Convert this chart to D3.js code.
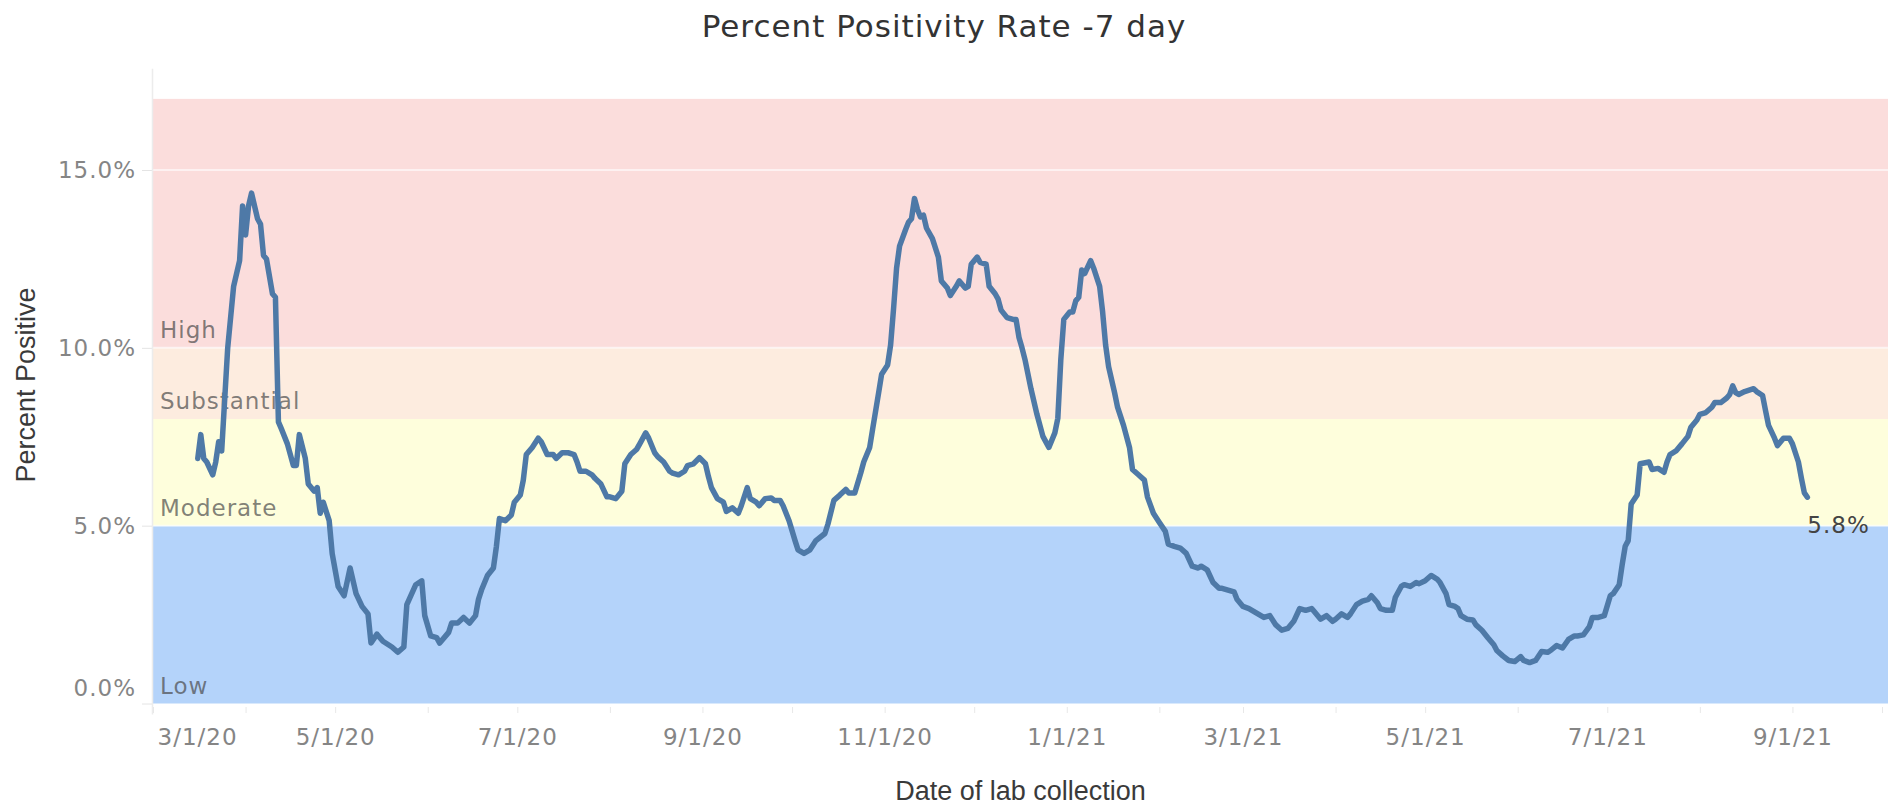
<!DOCTYPE html>
<html>
<head>
<meta charset="utf-8">
<script src="https://cdn.jsdelivr.net/npm/d3@7"></script>
<style>
html, body { margin: 0; padding: 0; background: #fff; }
svg text { font-family: "DejaVu Sans", sans-serif; }
</style>
</head>
<body>
<svg id="svg" width="1888" height="806"></svg>
<script>
// 7-day percent positivity
var dates = [
	"3/16/20","3/17/20","3/18/20","3/19/20","3/21/20","3/22/20","3/23/20","3/24/20","3/26/20","3/28/20","3/30/20","3/31/20",
	"4/1/20","4/2/20","4/3/20","4/5/20","4/6/20","4/7/20","4/8/20","4/10/20","4/11/20","4/12/20","4/13/20","4/15/20","4/17/20","4/18/20","4/19/20","4/21/20","4/22/20","4/24/20","4/25/20","4/26/20","4/27/20","4/29/20","4/30/20",
	"5/2/20","5/4/20","5/6/20","5/8/20","5/10/20","5/12/20","5/13/20","5/15/20","5/17/20","5/20/20","5/22/20","5/24/20","5/25/20","5/28/20","5/30/20","5/31/20",
	"6/2/20","6/4/20","6/5/20","6/8/20","6/9/20","6/11/20","6/13/20","6/15/20","6/17/20","6/18/20","6/19/20","6/21/20","6/23/20","6/24/20","6/25/20","6/27/20","6/29/20","6/30/20",
	"7/2/20","7/3/20","7/4/20","7/6/20","7/8/20","7/9/20","7/11/20","7/13/20","7/14/20","7/16/20","7/18/20","7/20/20","7/21/20","7/22/20","7/24/20","7/26/20","7/27/20","7/29/20","7/31/20",
	"8/1/20","8/3/20","8/5/20","8/6/20","8/8/20","8/10/20","8/11/20","8/13/20","8/14/20","8/16/20","8/17/20","8/19/20","8/21/20","8/22/20","8/24/20","8/26/20","8/27/20","8/29/20","8/31/20",
	"9/2/20","9/3/20","9/4/20","9/6/20","9/8/20","9/9/20","9/11/20","9/13/20","9/14/20","9/16/20","9/17/20","9/19/20","9/20/20","9/22/20","9/24/20","9/25/20","9/27/20","9/28/20","9/30/20",
	"10/2/20","10/3/20","10/5/20","10/7/20","10/9/20","10/12/20","10/13/20","10/15/20","10/17/20","10/19/20","10/20/20","10/22/20","10/24/20","10/25/20","10/27/20","10/28/20","10/30/20","10/31/20",
	"11/2/20","11/3/20","11/4/20","11/5/20","11/6/20","11/8/20","11/9/20","11/10/20","11/11/20","11/12/20","11/13/20","11/14/20","11/15/20","11/17/20","11/19/20","11/20/20","11/22/20","11/23/20","11/25/20","11/26/20","11/28/20","11/29/20","11/30/20",
	"12/2/20","12/3/20","12/5/20","12/6/20","12/8/20","12/9/20","12/10/20","12/12/20","12/14/20","12/15/20","12/16/20","12/17/20","12/18/20","12/20/20","12/22/20","12/24/20","12/26/20","12/28/20","12/29/20","12/30/20","12/31/20",
	"1/2/21","1/3/21","1/4/21","1/5/21","1/6/21","1/7/21","1/9/21","1/10/21","1/12/21","1/13/21","1/14/21","1/15/21","1/17/21","1/18/21","1/20/21","1/22/21","1/23/21","1/25/21","1/27/21","1/28/21","1/30/21",
	"2/1/21","2/3/21","2/4/21","2/6/21","2/8/21","2/10/21","2/12/21","2/14/21","2/15/21","2/17/21","2/19/21","2/21/21","2/22/21","2/24/21","2/26/21","2/27/21",
	"3/1/21","3/3/21","3/4/21","3/6/21","3/8/21","3/10/21","3/12/21","3/14/21","3/16/21","3/18/21","3/20/21","3/22/21","3/24/21","3/25/21","3/27/21","3/29/21","3/31/21",
	"4/1/21","4/3/21","4/5/21","4/6/21","4/8/21","4/10/21","4/12/21","4/13/21","4/15/21","4/16/21","4/18/21","4/20/21","4/21/21","4/23/21","4/24/21","4/26/21","4/28/21","4/29/21",
	"5/1/21","5/3/21","5/5/21","5/6/21","5/8/21","5/9/21","5/11/21","5/12/21","5/13/21","5/15/21","5/17/21","5/18/21","5/20/21","5/22/21","5/24/21","5/25/21","5/27/21","5/29/21","5/31/21",
	"6/2/21","6/3/21","6/5/21","6/7/21","6/9/21","6/11/21","6/12/21","6/14/21","6/16/21","6/18/21","6/20/21","6/21/21","6/23/21","6/25/21","6/26/21","6/28/21","6/30/21",
	"7/2/21","7/3/21","7/5/21","7/6/21","7/7/21","7/8/21","7/9/21","7/11/21","7/12/21","7/15/21","7/16/21","7/18/21","7/20/21","7/21/21","7/22/21","7/24/21","7/26/21","7/28/21","7/29/21","7/31/21",
	"8/1/21","8/3/21","8/5/21","8/6/21","8/8/21","8/10/21","8/11/21","8/12/21","8/13/21","8/14/21","8/16/21","8/19/21","8/20/21","8/22/21","8/23/21","8/24/21","8/26/21","8/27/21","8/29/21","8/31/21",
	"9/1/21","9/3/21","9/4/21","9/5/21","9/6/21"
];
var values = [
	6.89,7.56,6.89,6.79,6.43,6.79,7.36,7.10,9.98,11.73,12.45,13.99,
	13.17,13.99,14.35,13.63,13.48,12.60,12.50,11.52,11.42,7.92,7.72,7.30,6.69,6.69,7.56,6.89,6.17,5.97,6.07,5.35,5.66,5.14,4.22,
	3.29,3.03,3.81,3.09,2.73,2.52,1.70,1.95,1.75,1.59,1.44,1.59,2.78,3.34,3.45,2.47,
	1.90,1.85,1.70,2.00,2.26,2.26,2.42,2.26,2.47,2.93,3.19,3.60,3.81,4.42,5.20,5.14,5.30,5.66,
	5.86,6.28,7.00,7.20,7.46,7.36,7.00,7.00,6.89,7.05,7.05,7.00,6.79,6.53,6.53,6.43,6.33,6.17,5.81,
	5.81,5.76,5.97,6.74,7.00,7.15,7.30,7.61,7.46,7.05,6.94,6.79,6.53,6.48,6.43,6.53,6.69,6.74,6.91,
	6.74,6.38,6.07,5.76,5.66,5.40,5.50,5.35,5.56,6.07,5.76,5.66,5.56,5.76,5.78,5.71,5.71,5.56,5.14,
	4.58,4.32,4.22,4.32,4.58,4.78,5.04,5.71,5.86,6.02,5.92,5.92,6.48,6.79,7.20,7.72,8.74,9.26,
	9.52,10.08,11.11,12.24,12.86,13.32,13.53,13.63,14.20,13.89,13.68,13.73,13.37,13.07,12.55,11.88,11.68,11.47,11.73,11.88,11.68,11.73,12.35,
	12.55,12.40,12.35,11.73,11.52,11.37,11.06,10.85,10.80,10.80,10.29,10.00,9.67,8.85,8.13,7.51,7.20,7.61,8.02,9.67,10.80,
	11.01,11.01,11.32,11.42,12.19,12.09,12.45,12.24,11.73,11.01,10.08,9.47,8.74,8.33,7.82,7.20,6.58,6.43,6.28,5.81,5.35,
	5.09,4.84,4.48,4.42,4.37,4.22,3.86,3.81,3.86,3.76,3.40,3.24,3.24,3.19,3.14,2.93,
	2.73,2.67,2.62,2.52,2.42,2.47,2.21,2.06,2.11,2.31,2.67,2.62,2.67,2.57,2.37,2.47,2.31,
	2.37,2.52,2.42,2.52,2.78,2.88,2.93,3.03,2.83,2.67,2.62,2.62,2.98,3.29,3.34,3.29,3.40,3.37,
	3.45,3.60,3.50,3.40,3.09,2.78,2.73,2.67,2.47,2.37,2.35,2.21,2.06,1.85,1.65,1.49,1.34,1.21,1.18,
	1.32,1.21,1.15,1.21,1.46,1.44,1.49,1.63,1.56,1.80,1.90,1.90,1.93,2.16,2.42,2.42,2.47,
	3.03,3.09,3.34,3.91,4.42,4.58,5.61,5.86,6.74,6.79,6.58,6.61,6.50,6.79,7.00,7.10,7.30,7.51,7.77,7.97,
	8.13,8.18,8.33,8.46,8.46,8.59,8.69,8.93,8.74,8.69,8.77,8.85,8.77,8.66,8.23,7.82,7.46,7.25,7.46,7.46,
	7.30,6.79,6.33,5.92,5.80
];

// risk bands
var bandNames = ["Low", "Moderate", "Substantial", "High"];
var bandFrom = [0, 5, 8, 10];
var bandTo = [5, 8, 10, 17];
var bandColors = ["#b4d3fa", "#fefedc", "#fdecdf", "#fbdddc"];

// axis ticks
var yTicks = [0, 5, 10, 15];
var xTicks = ["3/1/20","4/1/20","5/1/20","6/1/20","7/1/20","8/1/20","9/1/20","10/1/20","11/1/20","12/1/20",
	"1/1/21","2/1/21","3/1/21","4/1/21","5/1/21","6/1/21","7/1/21","8/1/21","9/1/21","10/1/21"];
var xLabels = ["3/1/20","5/1/20","7/1/20","9/1/20","11/1/20","1/1/21","3/1/21","5/1/21","7/1/21","9/1/21"];

var parse = d3.timeParse("%m/%d/%y");
var fmt = d3.timeFormat("%-m/%-d/%y");
var data = dates.map(function(d, i) { return { date: parse(d), value: values[i] }; });

var svg = d3.select("#svg");

var scaleX = d3.scaleTime()
	.domain([parse("3/1/20"), parse("10/3/21")])
	.range([153, 1888]);
var scaleY = d3.scaleLinear()
	.domain([0, 15])
	.range([703.5, 170]);
var yTop = 17.85, yBottom = -0.2;

// bands
svg.selectAll(".band").data(bandNames).enter().append("rect")
	.attr("class", "band")
	.attr("x", scaleX.range()[0])
	.attr("width", scaleX.range()[1] - scaleX.range()[0])
	.attr("y", function(d, i) { return scaleY(bandTo[i]); })
	.attr("height", function(d, i) { return scaleY(bandFrom[i]) - scaleY(bandTo[i]); })
	.attr("fill", function(d, i) { return bandColors[i]; });

// gridlines
svg.selectAll(".grid").data(yTicks.filter(function(d) { return d > 0; })).enter().append("line")
	.attr("class", "grid")
	.attr("x1", scaleX.range()[0]).attr("x2", scaleX.range()[1])
	.attr("y1", function(d) { return scaleY(d); })
	.attr("y2", function(d) { return scaleY(d); })
	.attr("stroke", "rgba(255,255,255,0.6)")
	.attr("stroke-width", 2);

// band labels
svg.selectAll(".bandLabel").data(bandNames).enter().append("text")
	.attr("class", "bandLabel")
	.attr("x", scaleX.range()[0] + 7)
	.attr("y", function(d, i) { return scaleY(bandFrom[i]) - 9.5; })
	.text(function(d) { return d; })
	.style("font-size", "23px")
	.style("letter-spacing", "1px")
	.attr("fill", "#4a4a4a")
	.attr("fill-opacity", 0.7);

// y axis
var axisY = d3.axisLeft(scaleY)
	.tickValues(yTicks)
	.tickFormat(function(d) { return d3.format(".1f")(d) + "%"; })
	.tickSize(10)
	.tickPadding(6);
var gAxisY = svg.append("g").attr("transform", "translate(152,0)").call(axisY);
gAxisY.select(".domain").remove();
gAxisY.selectAll(".tick line").attr("stroke", "#e4e4e4");
gAxisY.selectAll(".tick text")
	.style("font-size", "23px")
	.style("letter-spacing", "1px")
	.style("font-family", "DejaVu Sans")
	.attr("fill", "#858585")
	.attr("dy", function(d) { return d === 0 ? "-0.35em" : "0.34em"; });
svg.append("line")
	.attr("x1", 152.5).attr("x2", 152.5)
	.attr("y1", scaleY(yTop)).attr("y2", scaleY(yBottom) + 4)
	.attr("stroke", "#ececec").attr("stroke-width", 1.5);

// x axis
var axisX = d3.axisBottom(scaleX)
	.tickValues(xTicks.map(parse))
	.tickFormat(function(d) { return xLabels.indexOf(fmt(d)) >= 0 ? fmt(d) : ""; })
	.tickSize(6)
	.tickPadding(16);
var gAxisX = svg.append("g").attr("transform", "translate(0,707)").call(axisX);
gAxisX.select(".domain").remove();
gAxisX.selectAll(".tick line").attr("stroke", "#e8e8e8");
gAxisX.selectAll(".tick text")
	.style("font-size", "23px")
	.style("letter-spacing", "1px")
	.style("font-family", "DejaVu Sans")
	.attr("fill", "#858585");
gAxisX.selectAll(".tick text").filter(function(d, i) { return i === 0; })
	.attr("text-anchor", "start").attr("x", 4);

// line
var line = d3.line()
	.x(function(d) { return scaleX(d.date); })
	.y(function(d) { return scaleY(d.value); });
svg.append("path")
	.datum(data)
	.attr("d", line)
	.attr("fill", "none")
	.attr("stroke", "#4e79a7")
	.attr("stroke-width", 5.5)
	.attr("stroke-linejoin", "round")
	.attr("stroke-linecap", "round");

// last value label
var last = data[data.length - 1];
svg.append("text")
	.attr("x", scaleX(last.date))
	.attr("y", scaleY(last.value) + 36)
	.text(d3.format(".1f")(last.value) + "%")
	.style("font-size", "23px")
	.style("letter-spacing", "1px")
	.attr("fill", "#444");

// title
svg.append("text")
	.attr("x", 944).attr("y", 37)
	.attr("text-anchor", "middle")
	.text("Percent Positivity Rate -7 day")
	.style("font-size", "31px")
	.style("letter-spacing", "1px")
	.attr("fill", "#333");

// axis titles
svg.append("text")
	.attr("text-anchor", "middle")
	.attr("transform", "translate(35,385) rotate(-90)")
	.text("Percent Positive")
	.style("font-family", "Liberation Sans, Arial, sans-serif")
	.style("font-size", "27px")
	.attr("fill", "#3a3a3a");
svg.append("text")
	.attr("text-anchor", "middle")
	.attr("x", (scaleX.range()[0] + scaleX.range()[1]) / 2)
	.attr("y", 800)
	.text("Date of lab collection")
	.style("font-family", "Liberation Sans, Arial, sans-serif")
	.style("font-size", "27px")
	.attr("fill", "#3a3a3a");
</script>
</body>
</html>
